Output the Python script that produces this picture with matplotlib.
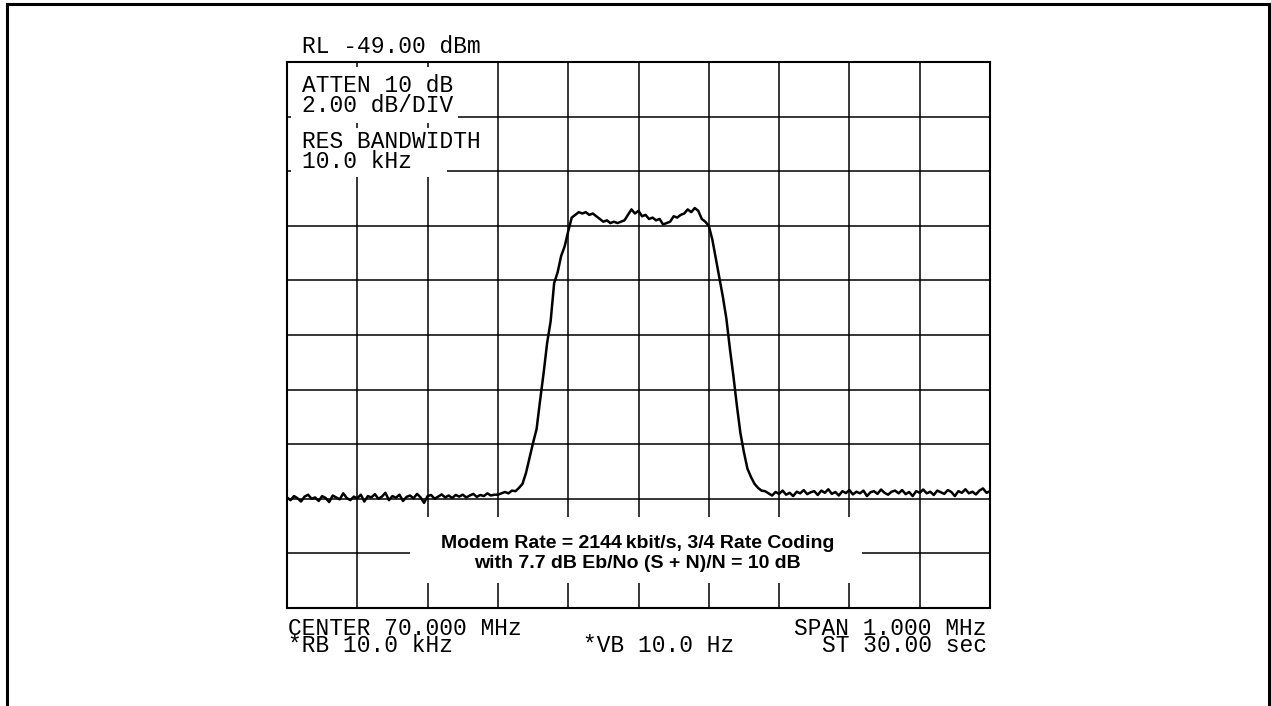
# %%

import numpy as np
import matplotlib.pyplot as plt
from matplotlib.patches import Rectangle
from matplotlib.lines import Line2D

plt.rcParams['font.family'] = 'Liberation Mono'

# sweep: 69.5 .. 70.5 MHz, one reading every 5 kHz
center_mhz = 70.0
span_mhz = 1.0
ref_level = -49.0
db_per_div = 2.0
freq_khz = np.arange(-500, 501, 5)

# trace levels (dBm)
noise_left = [
    -64.95, -65.05, -64.9, -64.98, -65.1, -64.92, -64.85, -65.0, -64.95, -65.08,
    -64.9, -64.97, -65.12, -64.88, -64.95, -65.02, -64.8, -64.97, -65.05, -64.92,
    -64.98, -64.85, -65.1, -64.9, -64.95, -64.83, -65.0, -64.92, -64.78, -65.05,
    -64.9, -64.96, -64.85, -65.08, -64.93, -64.88, -64.98, -64.82, -64.95, -65.15,
    -64.9, -64.86, -65.0, -64.92, -64.84, -64.95, -64.88, -64.97, -64.86, -64.92,
    -64.85, -64.95, -64.88, -64.82, -64.93, -64.86, -64.9, -64.8, -64.88, -64.85,
]
rise = [
    -64.85, -64.8, -64.75, -64.8, -64.7, -64.72, -64.6, -64.45, -64.05, -63.5,
    -62.95, -62.45, -61.4, -60.4, -59.3, -58.5, -57.1, -56.7, -56.1, -55.75,
    -55.2, -54.7,
]
plateau = [
    -54.6, -54.5, -54.55, -54.5, -54.6, -54.55, -54.65, -54.75, -54.85, -54.8,
    -54.9, -54.85, -54.9, -54.85, -54.8, -54.6, -54.4, -54.55, -54.45, -54.65,
    -54.6, -54.75, -54.7, -54.8, -54.75, -54.95, -54.9, -54.85, -54.65, -54.7,
    -54.6, -54.55, -54.4, -54.5, -54.35, -54.45, -54.75, -54.85, -55.0,
]
fall = [
    -55.5, -56.2, -56.9, -57.6, -58.4, -59.5, -60.5, -61.6, -62.6, -63.3,
    -63.9, -64.2, -64.45, -64.6, -64.7,
]
noise_right = [
    -64.72, -64.8, -64.88, -64.75, -64.82, -64.7, -64.85, -64.78, -64.9, -64.74,
    -64.8, -64.68, -64.83, -64.76, -64.72, -64.86, -64.7, -64.78, -64.65, -64.82,
    -64.75, -64.88, -64.72, -64.79, -64.68, -64.84, -64.74, -64.8, -64.7, -64.9,
    -64.76, -64.72, -64.82, -64.66, -64.78, -64.85, -64.74, -64.7, -64.8, -64.68,
    -64.83, -64.75, -64.9, -64.72, -64.78, -64.66, -64.8, -64.74, -64.86, -64.7,
    -64.76, -64.82, -64.68, -64.75, -64.9, -64.72, -64.78, -64.65, -64.8, -64.74,
    -64.84, -64.7, -64.62, -64.78, -64.72,
]
level_dbm = np.array(noise_left + rise + plateau + fall + noise_right)
freq_mhz = center_mhz + freq_khz / 1000.0

fig = plt.figure(figsize=(12.71, 7.06), dpi=100)
ax = fig.add_axes([287 / 1271, 98 / 706, 703 / 1271, 546 / 706])

x0, x1 = center_mhz - span_mhz / 2, center_mhz + span_mhz / 2
y0, y1 = ref_level - 10 * db_per_div, ref_level
ax.set_xlim(x0, x1)
ax.set_ylim(y0, y1)
ax.set_xticks(np.linspace(x0, x1, 11))
ax.set_yticks(np.linspace(y0, y1, 11))
ax.tick_params(length=0, labelbottom=False, labelleft=False)
ax.set_axisbelow(True)
ax.grid(True, color='black', lw=1.1)
for s in ax.spines.values():
    s.set_linewidth(1.5)

ax.plot(freq_mhz, level_dbm, color='black', lw=1.8, zorder=3)

# white patches behind the annotation text
for (bx, by, bw, bh) in [(0.0057, 0.8883, 0.2375, 0.1025),
                         (0.0057, 0.8297, 0.2745, 0.0494),
                         (0.0057, 0.7894, 0.2219, 0.0403),
                         (0.175, 0.0458, 0.643, 0.1209)]:
    ax.add_patch(Rectangle((bx, by), bw, bh, transform=ax.transAxes,
                           facecolor='white', edgecolor='none', zorder=1))

# multi-line blocks: va='baseline' pins the baseline of the last line
mono = dict(transform=ax.transAxes, fontsize=16.5, va='baseline', zorder=4)
ax.text(0.0213, 1.0165, f'RL {ref_level:.2f} dBm', clip_on=False, **mono)
ax.text(0.0213, 0.9084, f'ATTEN 10 dB\n{db_per_div:.2f} dB/DIV',
        linespacing=0.83, **mono)
ax.text(0.0213, 0.8059, 'RES BANDWIDTH\n10.0 kHz', linespacing=0.83, **mono)
ax.text(0.0014, -0.0806, f'CENTER {center_mhz:.3f} MHz\n*RB 10.0 kHz',
        linespacing=0.68, **mono)
ax.text(0.421, -0.0806, '*VB 10.0 Hz', **mono)
ax.text(0.9957, -0.0806, f'SPAN {span_mhz:.3f} MHz\nST 30.00 sec',
        ha='right', multialignment='right', linespacing=0.68, **mono)

bold = dict(transform=ax.transAxes, fontsize=14, fontweight='bold',
            family='Liberation Sans', ha='center', va='baseline', zorder=4)
ax.text(0.499, 0.0733,
        'Modem Rate = 2144\u2009kbit/s, 3/4 Rate Coding\n'
        'with 7.7 dB Eb/No (S + N)/N = 10 dB', linespacing=1.22, **bold)

# outer page frame (open at the bottom)
for xs, ys in [([7, 7], [706, 4]), ([7, 1269], [4, 4]), ([1269, 1269], [4, 706])]:
    fig.add_artist(Line2D([x / 1271 for x in xs], [1 - y / 706 for y in ys],
                          color='black', lw=2.2))

fig.savefig('out.png', dpi=100)
